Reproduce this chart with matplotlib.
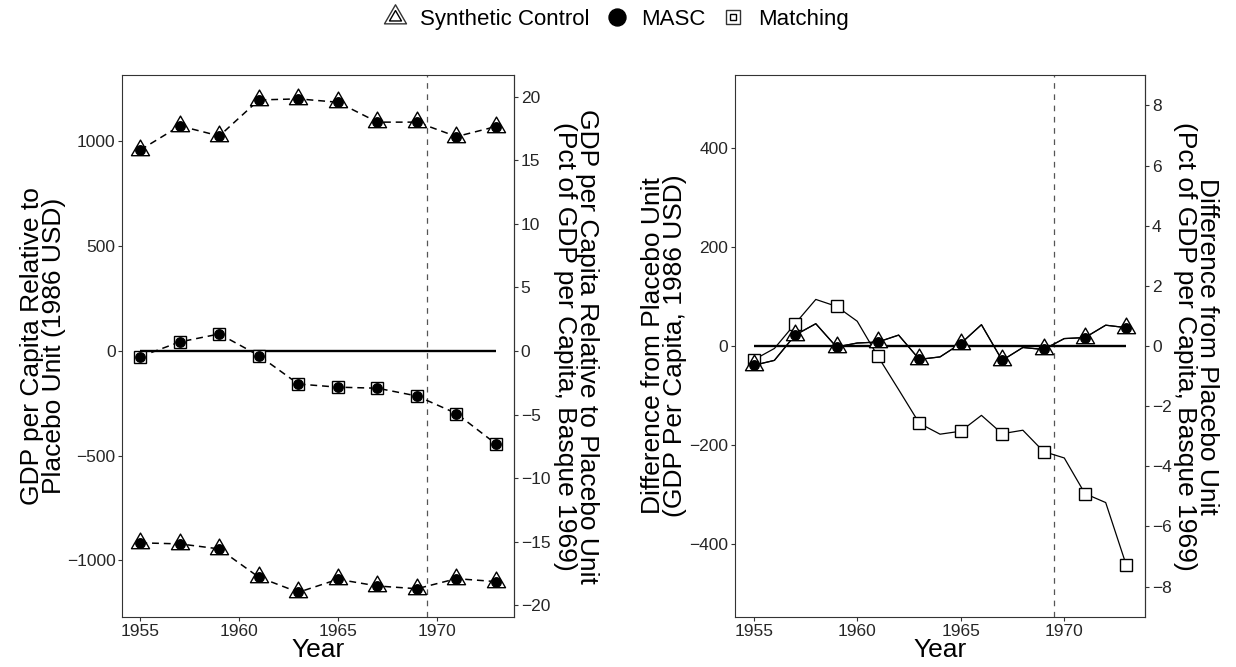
import numpy as np
import matplotlib
matplotlib.use("Agg")
import matplotlib.pyplot as plt
from matplotlib.path import Path
from matplotlib.lines import Line2D
from matplotlib.legend_handler import HandlerTuple

plt.rcParams['font.family'] = ['Liberation Sans', 'DejaVu Sans']

# ---- data -------------------------------------------------------------
# Left panel: biennial gaps (1986 USD) relative to three placebo units
years_left = [1955, 1957, 1959, 1961, 1963, 1965, 1967, 1969, 1971, 1973]
gap_upper = [959, 1074, 1026, 1198, 1203, 1187, 1092, 1092, 1023, 1071]
gap_middle = [-27, 43, 81, -22, -158, -173, -178, -215, -299, -444]
gap_lower = [-916, -921, -945, -1080, -1152, -1090, -1122, -1135, -1087, -1101]

# Right panel: annual differences from the placebo unit (1986 USD)
years_right = list(range(1955, 1974))
masc_right = [-39, -29, 22, 45, -2, 6, 8, 22, -27, -22, 5, 43, -29, -3, -7,
              15, 17, 42, 37]
matching_right = [-28, -5, 45, 94, 80, 50, -21, -88, -156, -178, -172, -140,
                  -177, -170, -213, -226, -298, -316, -443]
sc_right = list(masc_right)          # synthetic control path coincides with MASC
marker_years = [1955, 1957, 1959, 1961, 1963, 1965, 1967, 1969, 1971, 1973]

treatment_year = 1969.5
basque_gdp_1969 = 6070.0             # USD per capita, base of the percent axes

left_ticks = [-1000, -500, 0, 500, 1000]
left_pct_ticks = [-20, -15, -10, -5, 0, 5, 10, 15, 20]
right_ticks = [-400, -200, 0, 200, 400]
right_pct_ticks = [-8, -6, -4, -2, 0, 2, 4, 6, 8]
year_ticks = [1955, 1960, 1965, 1970]


def to_pct(v):
    return np.asarray(v) / basque_gdp_1969 * 100.0


def to_usd(p):
    return np.asarray(p) * basque_gdp_1969 / 100.0


# ---- styling ------------------------------------------------------------
TRI = Path([(0, 1), (-0.866, -0.5), (0.866, -0.5), (0, 1)],
           [Path.MOVETO, Path.LINETO, Path.LINETO, Path.CLOSEPOLY])
FRAME = '#333333'
TICKTXT = '#262626'
TITLE_SIZE = 19
TICK_SIZE = 12.5

fig = plt.figure(figsize=(12.36, 6.67), dpi=100)
ax_l = fig.add_axes([0.0991, 0.07496, 0.3166, 0.8126])
ax_r = fig.add_axes([0.5947, 0.07496, 0.3317, 0.8126])


def style_axes(ax):
    for s in ax.spines.values():
        s.set_color(FRAME)
        s.set_linewidth(0.8)
    ax.tick_params(direction='out', length=3, width=0.8, color=FRAME,
                   labelsize=TICK_SIZE, labelcolor=TICKTXT, pad=2)
    ax.set_xlim(1954.1, 1973.9)
    ax.set_xticks(year_ticks)
    ax.set_xlabel('Year', fontsize=TITLE_SIZE, labelpad=-1)


def style_secondary(sec, ticks):
    sec.set_yticks(ticks)
    sec.spines['right'].set_color(FRAME)
    sec.spines['right'].set_linewidth(0.8)
    sec.tick_params(direction='out', length=3, width=0.8, color=FRAME,
                    labelsize=TICK_SIZE, labelcolor=TICKTXT, pad=2)


# ---- left panel ---------------------------------------------------------
style_axes(ax_l)
ax_l.set_ylim(-1270, 1317)
ax_l.set_yticks(left_ticks)
ax_l.axvline(treatment_year, color='#555555', lw=0.9, ls=(0, (4.5, 4.5)),
             zorder=1)
ax_l.hlines(0, years_left[0], years_left[-1], color='black', lw=1.7,
            zorder=1.5)

for series, shape, ms in [(gap_upper, TRI, 15), (gap_middle, 's', 9.2),
                          (gap_lower, TRI, 15)]:
    ax_l.plot(years_left, series, color='black', lw=1.1,
              ls=(0, (4.5, 3.2)), zorder=2)
    ax_l.plot(years_left, series, ls='none', marker=shape, ms=ms,
              mfc='white', mec='black', mew=1.0, zorder=3)
    ax_l.plot(years_left, series, ls='none', marker='o', ms=6.8,
              mfc='black', mec='black', zorder=4)

sec_l = ax_l.secondary_yaxis('right', functions=(to_pct, to_usd))
style_secondary(sec_l, left_pct_ticks)

# ---- right panel --------------------------------------------------------
style_axes(ax_r)
ax_r.set_ylim(-547, 547)
ax_r.set_yticks(right_ticks)
ax_r.axvline(treatment_year, color='#555555', lw=0.9, ls=(0, (4.5, 4.5)),
             zorder=1)
ax_r.hlines(0, years_right[0], years_right[-1], color='black', lw=1.7,
            zorder=1.5)

idx = [years_right.index(y) for y in marker_years]
ax_r.plot(years_right, matching_right, color='black', lw=0.9, zorder=2)
ax_r.plot(years_right, sc_right, color='black', lw=0.9, zorder=2)
ax_r.plot(years_right, masc_right, color='black', lw=0.9, zorder=2)
ax_r.plot(marker_years, [matching_right[i] for i in idx], ls='none',
          marker='s', ms=8.4, mfc='white', mec='black', mew=1.0, zorder=3)
ax_r.plot(marker_years, [sc_right[i] for i in idx], ls='none',
          marker=TRI, ms=15, mfc='white', mec='black', mew=1.0, zorder=3)
ax_r.plot(marker_years, [masc_right[i] for i in idx], ls='none',
          marker='o', ms=6.8, mfc='black', mec='black', zorder=4)

sec_r = ax_r.secondary_yaxis('right', functions=(to_pct, to_usd))
style_secondary(sec_r, right_pct_ticks)

# ---- axis titles ----------------------------------------------------------
title_kw = dict(fontsize=TITLE_SIZE, ha='center', va='center',
                linespacing=0.9, multialignment='center')
fig.text(0.0348, 0.4813, 'GDP per Capita Relative to\nPlacebo Unit (1986 USD)',
         rotation=90, **title_kw)
fig.text(0.4660, 0.4813,
         'GDP per Capita Relative to Placebo Unit\n'
         '(Pct of GDP per Capita, Basque 1969)',
         rotation=270, **title_kw)
fig.text(0.5375, 0.4813,
         'Difference from Placebo Unit\n(GDP Per Capita, 1986 USD)',
         rotation=90, **title_kw)
fig.text(0.9680, 0.4813,
         'Difference from Placebo Unit\n(Pct of GDP per Capita, Basque 1969)',
         rotation=270, **title_kw)

# ---- legend ---------------------------------------------------------------
h_sc = (Line2D([], [], ls='none', marker=TRI, ms=18.3, mfc='white',
               mec='#333333', mew=1.0),
        Line2D([], [], ls='none', marker=TRI, ms=10, mfc='none',
               mec='black', mew=1.0))
h_masc = Line2D([], [], ls='none', marker='o', ms=12.2, mfc='black',
                mec='black')
h_match = (Line2D([], [], ls='none', marker='s', ms=9.6, mfc='white',
                  mec='#333333', mew=1.0),
           Line2D([], [], ls='none', marker='s', ms=5, mfc='none',
                  mec='black', mew=1.0))
fig.legend([h_sc, h_masc, h_match], ['Synthetic Control', 'MASC', 'Matching'],
           loc='center', bbox_to_anchor=(0.4986, 0.9715), ncol=3,
           frameon=False, fontsize=16, handlelength=1.0, handletextpad=0.6,
           columnspacing=0.75, borderpad=0, borderaxespad=0,
           handler_map={tuple: HandlerTuple(ndivide=1, pad=0)})

fig.savefig('out.png', dpi=100)
